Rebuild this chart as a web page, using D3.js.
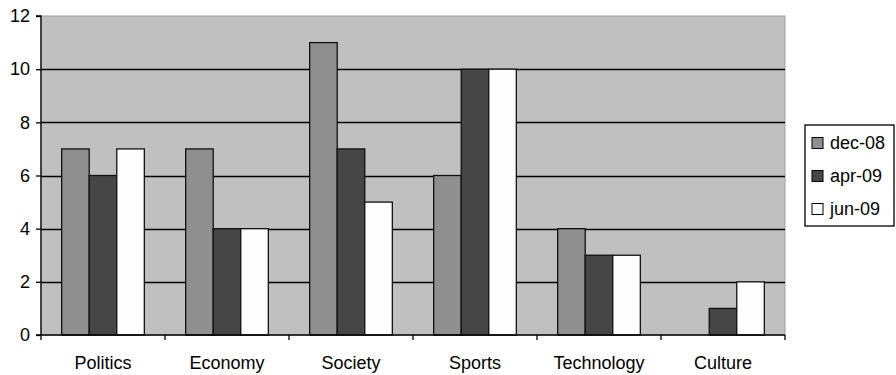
<!DOCTYPE html>
<html>
<head>
<meta charset="utf-8">
<script src="https://cdn.jsdelivr.net/npm/d3@7"></script>
<style>
  body { margin: 0; background: #fff; }
  svg { display: block; }
</style>
</head>
<body>
<svg id="chart" width="896" height="375"></svg>
<script>
// values
var categories = ["Politics", "Economy", "Society", "Sports", "Technology", "Culture"];
var seriesNames = ["dec-08", "apr-09", "jun-09"];
var dec08 = [7, 7, 11, 6, 4, 0];
var apr09 = [6, 4, 7, 10, 3, 1];
var jun09 = [7, 4, 5, 10, 3, 2];
var yTicks = [0, 2, 4, 6, 8, 10, 12];

var seriesValues = [dec08, apr09, jun09];
var seriesColors = ["#8f8f8f", "#464646", "#fdfdfd"];

var svg = d3.select("#chart")
  .attr("font-family", "'Liberation Sans', Arial, sans-serif");

var margin = {top: 16, right: 111, bottom: 40, left: 41};
var width = 896, height = 375;

var x = d3.scaleBand()
  .domain(categories)
  .range([margin.left, width - margin.right]);

// excel style gap width 150%
var barW = x.bandwidth() / 4.5;
var groupOff = (x.bandwidth() - 3 * barW) / 2;

var y = d3.scaleLinear()
  .domain([0, 12])
  .range([height - margin.bottom, margin.top]);

// plot background
svg.append("rect")
  .attr("x", margin.left)
  .attr("y", margin.top)
  .attr("width", x.range()[1] - margin.left)
  .attr("height", y(0) - margin.top)
  .attr("fill", "#c0c0c0")
  .attr("stroke", "#a0a0a0");

// gridlines
svg.append("g")
  .selectAll("line")
  .data(yTicks.filter(d => d > 0 && d < 12))
  .join("line")
    .attr("x1", margin.left)
    .attr("x2", x.range()[1])
    .attr("y1", d => Math.round(y(d)) + 0.5)
    .attr("y2", d => Math.round(y(d)) + 0.5)
    .attr("stroke", "#000")
    .attr("stroke-width", 1.3);

// bars
seriesValues.forEach(function(vals, s) {
  svg.append("g")
    .selectAll("rect")
    .data(vals.map((v, i) => ({cat: categories[i], v: v})).filter(d => d.v > 0))
    .join("rect")
      .attr("x", d => x(d.cat) + groupOff + s * barW)
      .attr("y", d => y(d.v))
      .attr("width", barW)
      .attr("height", d => y(0) - y(d.v))
      .attr("fill", seriesColors[s])
      .attr("stroke", "#111")
      .attr("stroke-width", 1.3);
});

// y axis
var yAxis = svg.append("g")
  .attr("transform", `translate(${margin.left},0)`)
  .call(d3.axisLeft(y).tickValues(yTicks).tickSize(5).tickPadding(6));
yAxis.selectAll("text").attr("font-size", 18).attr("fill", "#000");
yAxis.selectAll("line,path").attr("stroke", "#000").attr("stroke-width", 1.3);
yAxis.select("path").attr("d", `M-5,${y(12)}H0V${y(0)}H-5`);

// x axis
var xAxis = svg.append("g")
  .attr("transform", `translate(0,${y(0)})`)
  .call(d3.axisBottom(x).tickSize(0).tickPadding(21));
xAxis.selectAll("text").attr("font-size", 18).attr("fill", "#000");
xAxis.select("path").attr("stroke", "#000").attr("stroke-width", 1.3)
  .attr("d", `M${margin.left},0H${x.range()[1]}`);
xAxis.append("g")
  .selectAll("line")
  .data(d3.range(categories.length + 1))
  .join("line")
    .attr("x1", i => x.range()[0] + i * x.step())
    .attr("x2", i => x.range()[0] + i * x.step())
    .attr("y1", 0)
    .attr("y2", 5)
    .attr("stroke", "#000")
    .attr("stroke-width", 1.3);

// legend
var legend = svg.append("g").attr("transform", "translate(805,125)");
legend.append("rect")
  .attr("width", 89)
  .attr("height", 101)
  .attr("fill", "#fff")
  .attr("stroke", "#000")
  .attr("stroke-width", 1.3);

var item = legend.selectAll(".item")
  .data(seriesNames)
  .join("g")
    .attr("class", "item")
    .attr("transform", (d, i) => `translate(0,${17.5 + i * 33})`);

item.append("rect")
  .attr("x", 7)
  .attr("y", -5)
  .attr("width", 11)
  .attr("height", 11)
  .attr("fill", (d, i) => seriesColors[i])
  .attr("stroke", "#000");

item.append("text")
  .attr("x", 25)
  .attr("y", 0)
  .attr("dy", "0.35em")
  .attr("font-size", 18)
  .text(d => d);
</script>
</body>
</html>
